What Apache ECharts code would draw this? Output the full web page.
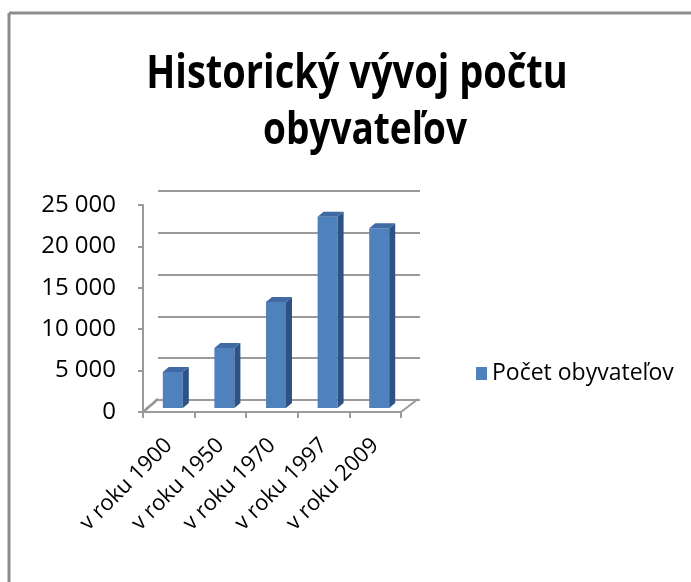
<!DOCTYPE html>
<html>
<head>
<meta charset="utf-8">
<title>Historický vývoj počtu obyvateľov</title>
<script src="https://cdn.jsdelivr.net/npm/echarts@6/dist/echarts.min.js"></script>
<style>
  html, body { margin: 0; padding: 0; background: #fff; }
  #chart { width: 691px; height: 582px; }
</style>
</head>
<body>
<div id="chart"></div>
<script>
// data
var titleLines = ['Historický vývoj počtu', 'obyvateľov'];
var seriesName = 'Počet obyvateľov';
var categories = ['v roku 1900', 'v roku 1950', 'v roku 1970', 'v roku 1997', 'v roku 2009'];
var population = [4350, 7250, 12800, 23100, 21700];
var yTicks = [0, 5000, 10000, 15000, 20000, 25000];

var FONT = '"Open Sans", "Noto Sans", sans-serif';
var LINE = '#9a9a9a';
var DEPTH = [15, -13];   // back wall offset from the front axis plane

function fmt(v) {
    return String(v).replace(/\B(?=(\d{3})+(?!\d))/g, ' ');
}

var chart = echarts.init(document.getElementById('chart'));

var option = {
    backgroundColor: '#fff',
    animation: false,
    textStyle: { fontFamily: FONT },
    graphic: [
        // frame, only top and left edges are visible
        { type: 'line', shape: { x1: 9, y1: 13, x2: 691, y2: 13 }, style: { stroke: '#8c8c8c', lineWidth: 3 } },
        { type: 'line', shape: { x1: 9, y1: 13, x2: 9, y2: 582 }, style: { stroke: '#8c8c8c', lineWidth: 3 } },
        {
            type: 'text', x: 357, y: 75, scaleY: 1.22,
            style: { text: titleLines[0], font: 'bold 38px ' + FONT, fill: '#000', align: 'center', verticalAlign: 'middle' }
        },
        {
            type: 'text', x: 365, y: 131, scaleY: 1.22,
            style: { text: titleLines[1], font: 'bold 37px ' + FONT, fill: '#000', align: 'center', verticalAlign: 'middle' }
        }
    ],
    legend: {
        data: [seriesName],
        left: 471,
        top: 357,
        icon: 'rect',
        itemWidth: 11,
        itemHeight: 13,
        itemGap: 8,
        textStyle: { fontSize: 23, color: '#000', fontFamily: FONT }
    },
    grid: [
        // back wall
        { left: 158, top: 191, width: 262, height: 209 },
        // front plane
        { left: 143, top: 205, width: 258, height: 207 }
    ],
    xAxis: [
        { type: 'category', gridIndex: 0, data: categories, show: false },
        {
            type: 'category', gridIndex: 1, data: categories,
            axisLine: { lineStyle: { color: LINE, width: 2 } },
            axisTick: { show: true, length: 6, lineStyle: { color: LINE, width: 2 } },
            axisLabel: { rotate: 45, margin: 30, fontSize: 22, color: '#000', fontFamily: FONT }
        }
    ],
    yAxis: [
        {
            type: 'value', gridIndex: 0, min: 0, max: 25000, interval: 5000,
            axisLabel: { show: false }, axisLine: { show: false }, axisTick: { show: false },
            splitLine: { lineStyle: { color: LINE, width: 2 } }
        },
        {
            type: 'value', gridIndex: 1, min: 0, max: 25000, interval: 5000,
            axisLine: { show: true, lineStyle: { color: LINE, width: 2 } },
            axisTick: { show: true, length: 5, lineStyle: { color: LINE, width: 2 } },
            splitLine: { show: false },
            axisLabel: { fontSize: 24, color: '#000', margin: 27, formatter: fmt, fontFamily: FONT }
        }
    ],
    series: [
        {
            // diagonal connectors from the front axis to the back wall + right floor edge
            type: 'custom',
            xAxisIndex: 1, yAxisIndex: 1,
            silent: true,
            data: yTicks,
            renderItem: function (params, api) {
                var v = api.value(0);
                var band = api.size([1, 0])[0];
                var p = api.coord([0, v]);
                var x0 = p[0] - band / 2;
                var children = [{
                    type: 'line',
                    shape: { x1: x0, y1: p[1], x2: x0 + DEPTH[0], y2: p[1] + DEPTH[1] },
                    style: { stroke: LINE, lineWidth: 2 }
                }];
                if (v === 0) {
                    var q = api.coord([categories.length - 1, 0]);
                    var x1 = q[0] + band / 2;
                    children.push({
                        type: 'line',
                        shape: { x1: x1, y1: q[1], x2: x1 + DEPTH[0] + 2, y2: q[1] + DEPTH[1] },
                        style: { stroke: LINE, lineWidth: 2 }
                    });
                }
                return { type: 'group', children: children };
            },
            z: 1
        },
        {
            name: seriesName,
            type: 'custom',
            xAxisIndex: 1, yAxisIndex: 1,
            itemStyle: { color: '#4f81bd' },
            data: population.map(function (v, i) { return [i, v]; }),
            encode: { x: 0, y: 1 },
            renderItem: function (params, api) {
                var i = api.value(0), v = api.value(1);
                var base = api.coord([i, 0]);
                var top = api.coord([i, v]);
                var w = 20, off = [4, -4], d = [6, -5];
                var x0 = base[0] - w / 2 + off[0];
                var yb = base[1] + off[1];
                var yt = top[1] + off[1];
                return {
                    type: 'group',
                    children: [
                        {
                            type: 'rect',
                            shape: { x: x0, y: yt, width: w, height: yb - yt },
                            style: { fill: '#4f81bd' }
                        },
                        {
                            type: 'polygon',
                            shape: { points: [[x0 + w, yt], [x0 + w + d[0], yt + d[1]], [x0 + w + d[0], yb + d[1]], [x0 + w, yb]] },
                            style: { fill: '#2e5283' }
                        },
                        {
                            type: 'polygon',
                            shape: { points: [[x0, yt], [x0 + w, yt], [x0 + w + d[0], yt + d[1]], [x0 + d[0], yt + d[1]]] },
                            style: { fill: '#3f6aa3' }
                        }
                    ]
                };
            },
            z: 3
        }
    ]
};

chart.setOption(option);
</script>
</body>
</html>
